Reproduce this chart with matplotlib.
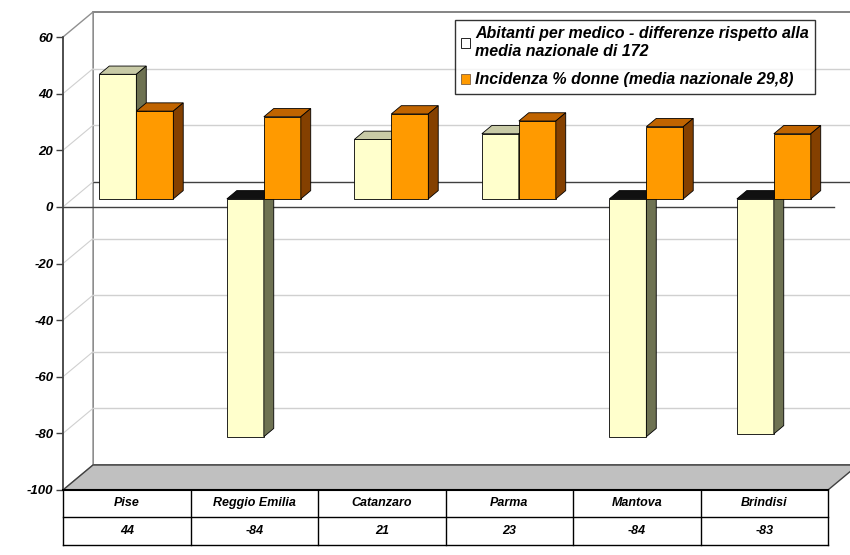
import matplotlib.pyplot as plt
from matplotlib.patches import Polygon, Patch

citta = ["Pise", "Reggio Emilia", "Catanzaro", "Parma", "Mantova", "Brindisi"]
abitanti_diff = [44, -84, 21, 23, -84, -83]
donne_pct = [31, 29, 30, 27.5, 25.5, 23]
yticks = list(range(-100, 61, 20))

legend_labels = [
    "Abitanti per medico - differenze rispetto alla\nmedia nazionale di 172",
    "Incidenza % donne (media nazionale 29,8)",
]

plt.rcParams["font.family"] = ["Liberation Sans", "DejaVu Sans"]
font = dict(fontsize=9, fontstyle="italic", fontweight="bold")

W, H = 850, 555
fig = plt.figure(figsize=(8.5, 5.55), dpi=100)
ax = fig.add_axes([63 / W, 1 - 490 / H, (828 - 63) / W, (490 - 37) / H])
ax.set_xlim(-0.5, 5.5)
ax.set_ylim(-100, 60)
ax.patch.set_alpha(0)

# depth of the 3d box in data units
DX = 30 / (765 / 6)
DY = 25 / (453 / 160)
x0, x1 = -0.5, 5.5
ymin, ymax = -100, 60

def poly(pts, fc, ec="black", lw=0.6, z=1):
    ax.add_patch(Polygon(pts, closed=True, facecolor=fc, edgecolor=ec,
                         linewidth=lw, zorder=z, clip_on=False))

# walls and floor
poly([(x0 + DX, ymin + DY), (x1 + DX + 0.3, ymin + DY),
      (x1 + DX + 0.3, ymax + DY), (x0 + DX, ymax + DY)], "white", "#707070", 1.2, 0)
poly([(x0, ymin), (x0 + DX, ymin + DY), (x0 + DX, ymax + DY), (x0, ymax)],
     "white", "#909090", 1.0, 0)
poly([(x0, ymin), (x1, ymin), (x1 + DX, ymin + DY), (x0 + DX, ymin + DY)],
     "#c0c0c0", "#404040", 1.0, 0.5)

for v in yticks[1:-1]:
    col = "#404040" if v == 0 else "#d0d0d0"
    ax.plot([x0 + DX, x1 + DX + 0.3], [v + DY, v + DY], color=col, lw=1.0,
            zorder=0.8, clip_on=False)
    ax.plot([x0, x0 + DX], [v, v + DY], color="#d0d0d0", lw=0.8,
            zorder=0.8, clip_on=False)
ax.plot([x0, x1 + 0.05], [0, 0], color="#404040", lw=1.0, zorder=0.9, clip_on=False)

# bars
w = 0.29
d0, d1 = 0.32, 0.65
ox, oy = d0 * DX, d0 * DY
ddx, ddy = (d1 - d0) * DX, (d1 - d0) * DY
styles = [
    ("#ffffcc", "#c8caa6", "#6e7252"),
    ("#ff9a00", "#c06400", "#844000"),
]

z = 3
for i in range(len(citta)):
    for s, vals in enumerate([abitanti_diff, donne_pct]):
        v = vals[i]
        front, top, side = styles[s]
        left = i + ox - w if s == 0 else i + ox
        ax.bar(left, v, width=w, bottom=oy, align="edge", color=front,
               edgecolor="black", linewidth=0.6, zorder=z)
        lo, hi = oy + min(v, 0), oy + max(v, 0)
        t = hi if v >= 0 else oy
        tc = top if v >= 0 else "#111111"
        poly([(left, t), (left + w, t), (left + w + ddx, t + ddy),
              (left + ddx, t + ddy)], tc, z=z)
        poly([(left + w, lo), (left + w, hi), (left + w + ddx, hi + ddy),
              (left + w + ddx, lo + ddy)], side, z=z)
        z += 1

# axis
ax.set_xticks([])
ax.set_yticks(yticks)
ax.set_yticklabels([str(v) for v in yticks], fontsize=9.5, fontstyle="italic",
                   fontweight="bold")
ax.tick_params(axis="y", direction="out", length=5, width=1, color="#404040", pad=2)
for k in ["top", "right", "bottom"]:
    ax.spines[k].set_visible(False)
ax.spines["left"].set_color("#404040")
ax.spines["left"].set_linewidth(1.2)
ax.spines["left"].set_zorder(2)

# data table under the chart
r0, r1, r2 = -100, -109.5, -119.4
for y in [r0, r1, r2]:
    ax.plot([x0, x1], [y, y], color="black", lw=1.0 if y != r0 else 1.5,
            zorder=5, clip_on=False)
for k in range(len(citta) + 1):
    ax.plot([x0 + k, x0 + k], [r0, r2], color="black", lw=1.0, zorder=5, clip_on=False)
for i, (name, v) in enumerate(zip(citta, abitanti_diff)):
    ax.text(i, (r0 + r1) / 2, name, ha="center", va="center", clip_on=False, **font)
    ax.text(i, (r1 + r2) / 2, str(v), ha="center", va="center", clip_on=False, **font)

# legend
handles = [Patch(facecolor="white", edgecolor="black", linewidth=0.6),
           Patch(facecolor="#ff9a00", edgecolor="#806040", linewidth=0.6)]
leg = fig.legend(handles, legend_labels, loc="upper left",
                 bbox_to_anchor=(455 / W, 1 - 20 / H), frameon=True, fancybox=False,
                 handlelength=0.55, handleheight=0.55, handletextpad=0.3,
                 borderpad=0.4, borderaxespad=0, labelspacing=0.85,
                 prop=dict(size=11.5, style="italic", weight="bold"))
leg.get_frame().set_edgecolor("black")
leg.get_frame().set_linewidth(1.0)

fig.savefig("out.png", dpi=100)
